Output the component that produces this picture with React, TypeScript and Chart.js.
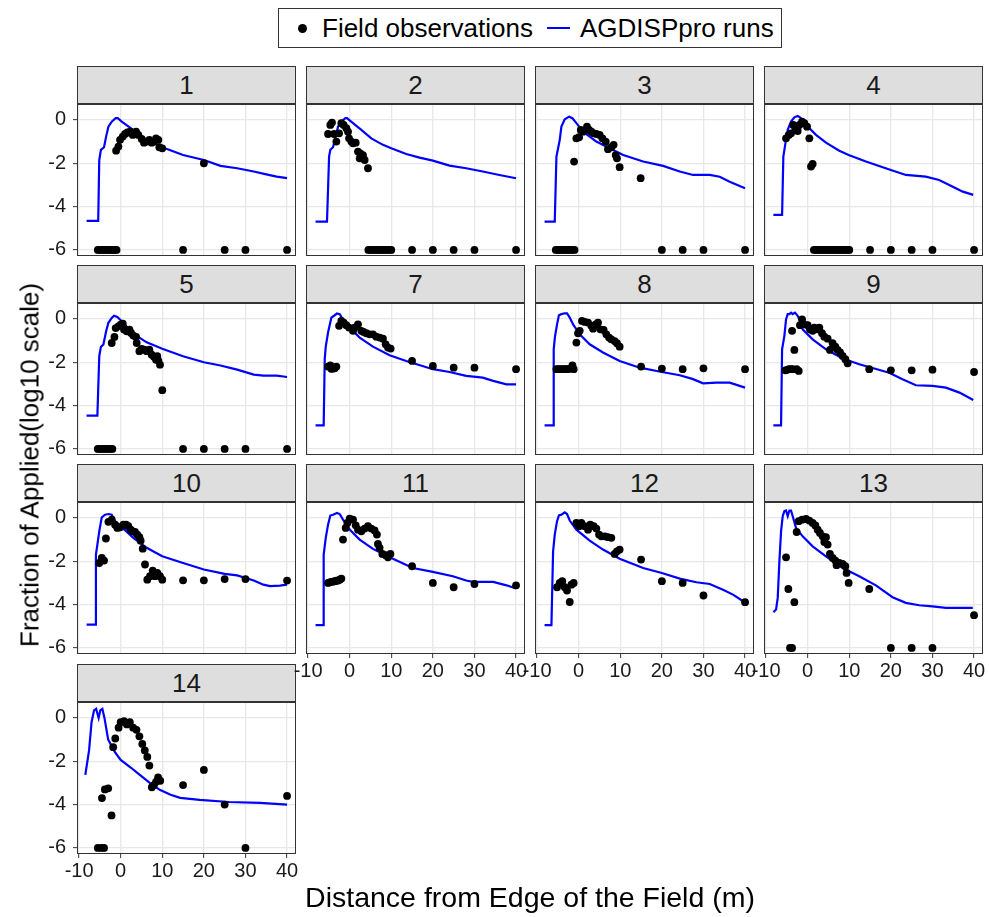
import React, { useEffect, useRef } from "react";
import { Chart, registerables } from "chart.js";
Chart.register(...registerables);

const FONT = "'Liberation Sans', Arial, Helvetica, sans-serif";

const xTicks = [-10, 0, 10, 20, 30, 40];
const yTicks = [-6, -4, -2, 0];
const xMin = -10.5;
const xMax = 42.15;
const yMin = -6.28;
const yMax = 0.735;

const panelLabels = ["1", "2", "3", "4", "5", "7", "8", "9", "10", "11", "12", "13", "14"];

// ---- AGDISPpro model runs (x = distance m, y = log10 fraction) ----
const model1 = [[-8.2,-4.66],[-5.4,-4.66],[-5.15,-1.85],[-4.75,-1.38],[-4.0,-1.26],[-3.5,-0.77],[-2.95,-0.31],[-2.15,-0.08],[-1.2,0.08],[-0.7,0.08],[0.25,-0.08],[3.0,-0.46],[6.25,-0.92],[10,-1.26],[15,-1.62],[20,-1.85],[24,-2.12],[28,-2.23],[32,-2.38],[35,-2.51],[37.5,-2.62],[40,-2.69]];
const model2 = [[-8.2,-4.69],[-5.45,-4.69],[-4.95,-1.69],[-4.65,-1.38],[-4.0,-1.26],[-3.35,-0.77],[-2.8,-0.31],[-2.0,-0.08],[-1.05,0.08],[-0.65,0.08],[0.8,-0.15],[2.8,-0.46],[5.2,-0.85],[8,-1.15],[10,-1.31],[13.6,-1.57],[16.8,-1.74],[20,-1.88],[24,-2.11],[28,-2.23],[32,-2.38],[36,-2.54],[40,-2.69]];
const model3 = [[-8.2,-4.69],[-5.75,-4.69],[-5.35,-1.69],[-4.95,-1.31],[-4.55,-0.92],[-4.15,-0.31],[-3.35,0.03],[-2.3,0.15],[-1.5,0.08],[-0.55,-0.15],[1.05,-0.54],[4.25,-1.0],[7.45,-1.31],[10.7,-1.62],[15.5,-1.92],[20.3,-2.12],[24.3,-2.38],[27.5,-2.54],[31.5,-2.54],[33.9,-2.62],[36.3,-2.85],[40,-3.15]];
const model4 = [[-8.25,-4.38],[-6.15,-4.38],[-5.85,-1.69],[-5.35,-1.08],[-4.8,-0.46],[-4.0,-0.08],[-3.2,0.12],[-2.4,0.18],[-1.85,0.12],[-1.2,0.0],[0,-0.31],[2.0,-0.69],[4.4,-1.05],[7.6,-1.42],[9.85,-1.62],[14,-1.92],[20,-2.31],[23.6,-2.54],[28.4,-2.62],[31.6,-2.77],[34.9,-3.08],[37.3,-3.31],[39.8,-3.46]];
const model5 = [[-8.2,-4.46],[-5.6,-4.46],[-5.15,-1.72],[-4.75,-1.29],[-4.15,-1.18],[-3.5,-0.57],[-2.95,-0.18],[-2.15,0.05],[-1.6,0.15],[-0.8,0.09],[0,-0.06],[3.05,-0.68],[6.25,-1.08],[10,-1.38],[15,-1.72],[20,-2.0],[24,-2.15],[28,-2.34],[32,-2.57],[34.3,-2.62],[37.5,-2.62],[40,-2.68]];
const model7 = [[-8.2,-4.91],[-6.25,-4.91],[-6.0,-1.86],[-5.75,-1.28],[-5.2,-0.63],[-4.4,0.06],[-3.6,0.17],[-3.05,0.25],[-2.4,0.22],[-1.75,0.02],[0,-0.4],[2.4,-0.86],[5.6,-1.28],[9.6,-1.68],[13.6,-1.94],[20,-2.32],[24,-2.45],[28,-2.63],[32,-2.71],[34.5,-2.86],[37.7,-3.02],[40,-3.02]];
const model8 = [[-8.2,-4.91],[-6.15,-4.91],[-6.0,-1.4],[-5.7,-0.82],[-5.2,-0.25],[-4.75,0.17],[-4.15,0.22],[-3.35,0.26],[-2.8,0.26],[-2.15,0.06],[-1.35,-0.25],[0.25,-0.71],[2.65,-1.17],[5.85,-1.55],[9.85,-1.94],[14.7,-2.25],[20,-2.45],[24.3,-2.6],[27.5,-2.78],[29.9,-2.97],[33.1,-2.94],[36.3,-2.94],[40,-3.17]];
const model9 = [[-8.25,-4.91],[-6.4,-4.91],[-6.15,-1.4],[-5.6,-0.78],[-5.2,-0.02],[-4.8,0.22],[-4.4,0.22],[-4.0,0.29],[-3.6,0.22],[-3.05,0.29],[-2.4,0.14],[-1.85,-0.09],[-1.2,-0.48],[1.2,-0.94],[4.4,-1.4],[8.4,-1.83],[12.4,-2.09],[19.6,-2.48],[22.8,-2.78],[26,-3.06],[30,-3.09],[33.25,-3.17],[36.5,-3.4],[39.8,-3.74]];
const model10 = [[-8.2,-4.92],[-6.15,-4.92],[-5.95,-1.69],[-5.6,-1.23],[-5.15,-0.62],[-4.55,0.03],[-3.75,0.15],[-2.95,0.18],[-2.15,0.15],[-1.35,-0.15],[0,-0.38],[3.05,-0.92],[6.25,-1.38],[10,-1.77],[15,-2.08],[20,-2.38],[25,-2.58],[28,-2.65],[32,-2.89],[34.3,-3.08],[35.9,-3.15],[38.3,-3.12],[40,-3.08]];
const model11 = [[-8.2,-4.95],[-6.4,-4.95],[-6.25,-1.69],[-5.75,-0.92],[-5.2,-0.31],[-4.65,0.11],[-4.0,0.15],[-3.05,0.23],[-2.4,0.18],[-1.75,-0.03],[0,-0.54],[2.4,-1.0],[5.6,-1.43],[9.6,-1.82],[15.2,-2.31],[20,-2.49],[24.8,-2.69],[28,-2.89],[29.6,-2.95],[34.5,-2.95],[37.7,-3.11],[40,-3.26]];
const model12 = [[-8.2,-4.95],[-6.55,-4.95],[-6.15,-1.54],[-5.75,-0.77],[-5.2,-0.15],[-4.75,0.12],[-4.15,0.15],[-3.35,0.26],[-2.8,0.18],[-2.15,-0.12],[-0.55,-0.54],[2.65,-1.05],[5.85,-1.46],[9.85,-1.88],[15.5,-2.31],[20,-2.54],[24.3,-2.8],[28.3,-2.97],[31.5,-3.05],[34.7,-3.31],[37.1,-3.54],[39.9,-3.89]];
const model13 = [[-8.25,-4.35],[-7.6,-4.23],[-7.2,-3.69],[-6.8,-2.0],[-6.4,-0.62],[-6.0,0.08],[-5.6,0.31],[-5.2,0.34],[-4.8,0.08],[-4.4,0.34],[-4.0,0.34],[-3.6,0.08],[-2.8,-0.46],[-1.2,-0.85],[1.2,-1.31],[4.4,-1.77],[8.4,-2.31],[12.4,-2.69],[16.4,-3.11],[20.4,-3.66],[23.6,-3.92],[26.8,-4.03],[30,-4.08],[33.25,-4.15],[36.5,-4.15],[39.7,-4.15]];
const model14 = [[-8.5,-2.63],[-7.6,-1.5],[-7.0,-0.2],[-6.4,0.35],[-5.9,0.42],[-5.3,0.0],[-4.9,0.35],[-4.4,0.42],[-3.9,0.0],[-3.0,-1.0],[-1.5,-1.55],[0,-1.94],[2.5,-2.3],[4.6,-2.63],[7,-3.0],[9.4,-3.32],[12,-3.55],[14.3,-3.69],[19,-3.78],[26,-3.88],[33.5,-3.92],[40,-4.0]];

// ---- Field observations ----
const field1 = [[-5.5,-6],[-5,-6],[-4.5,-6],[-4,-6],[-3.5,-6],[-3,-6],[-2.5,-6],[-2,-6],[-1.5,-6],[-1,-6],[15,-6],[25,-6],[30,-6],[40,-6],[20,-2.0],[-1.1,-1.42],[-0.55,-1.23],[-0.15,-0.92],[0.5,-0.77],[1.05,-0.65],[1.6,-0.58],[2.25,-0.54],[2.9,-0.69],[3.7,-0.54],[4.25,-0.69],[5.05,-0.88],[5.6,-1.05],[6.25,-1.0],[6.9,-0.92],[7.45,-1.05],[8.0,-1.0],[8.5,-0.85],[9.05,-0.92],[9.3,-1.26],[10.0,-1.31]];
const field2 = [[-4.25,-0.12],[-4.65,-0.23],[-5.2,-0.65],[-3.75,-0.65],[-2.55,-0.62],[-3.2,-1.0],[-2.0,-0.15],[-1.45,-0.23],[-0.8,-0.38],[-0.4,-0.54],[-0.15,-0.85],[0.4,-1.0],[0.8,-1.08],[1.45,-1.05],[2.0,-1.46],[2.55,-1.54],[3.2,-1.62],[2.4,-1.77],[3.6,-1.85],[4.4,-2.23],[4.5,-6],[5,-6],[5.5,-6],[6,-6],[6.5,-6],[7,-6],[7.5,-6],[8,-6],[8.5,-6],[9,-6],[9.5,-6],[10,-6],[15,-6],[20,-6],[25,-6],[30,-6],[40,-6]];
const field3 = [[-1.1,-1.92],[-0.55,-0.85],[0.1,-0.8],[0.5,-0.46],[1.05,-0.54],[2.0,-0.31],[2.5,-0.46],[3.05,-0.54],[3.6,-0.62],[4.25,-0.65],[5.05,-0.69],[5.7,-0.85],[6.5,-1.0],[7.05,-1.35],[7.85,-1.26],[8.4,-1.15],[8.9,-1.62],[9.2,-1.77],[9.85,-2.18],[14.9,-2.69],[-5.5,-6],[-5,-6],[-4.5,-6],[-4,-6],[-3.5,-6],[-3,-6],[-2.5,-6],[-2,-6],[-1.5,-6],[-1,-6],[20,-6],[25,-6],[30,-6],[40,-6]];
const field4 = [[-5.2,-0.85],[-4.55,-0.69],[-4.0,-0.62],[-3.45,-0.23],[-2.95,-0.46],[-2.4,-0.51],[-2.0,-0.23],[-1.35,-0.08],[-0.8,-0.15],[-0.15,-0.31],[0.4,-0.85],[0.8,-2.15],[1.2,-2.03],[1.5,-6],[2,-6],[2.5,-6],[3,-6],[3.5,-6],[4,-6],[4.5,-6],[5,-6],[5.5,-6],[6,-6],[6.5,-6],[7,-6],[7.5,-6],[8,-6],[8.5,-6],[9,-6],[9.5,-6],[10,-6],[15,-6],[20,-6],[25,-6],[30,-6],[40,-6]];
const field5 = [[-2.15,-1.11],[-1.5,-0.83],[-1.2,-0.42],[-0.55,-0.34],[0,-0.26],[0.5,-0.22],[0.8,-0.49],[1.45,-0.57],[2.1,-0.49],[2.5,-0.65],[3.05,-0.77],[3.7,-0.83],[3.85,-1.11],[4.5,-1.49],[5.05,-1.38],[5.7,-1.42],[6.25,-1.49],[6.9,-1.42],[7.45,-1.65],[8.0,-1.75],[8.5,-1.88],[8.8,-1.72],[9.05,-1.92],[9.45,-2.11],[10,-3.29],[-5.5,-6],[-5,-6],[-4.5,-6],[-4,-6],[-3.5,-6],[-3,-6],[-2.5,-6],[-2,-6],[15,-6],[20,-6],[25,-6],[30,-6],[40,-6]];
const field7 = [[-5.2,-2.2],[-4.65,-2.14],[-4.4,-2.3],[-4.0,-2.29],[-3.6,-2.28],[-3.2,-2.2],[-2.55,-0.32],[-2.0,-0.09],[-1.45,-0.17],[-0.8,-0.29],[-0.15,-0.4],[0.8,-0.55],[1.2,-0.4],[2.0,-0.25],[2.8,-0.55],[3.35,-0.6],[4.0,-0.66],[4.8,-0.71],[5.6,-0.71],[6.4,-0.82],[7.2,-0.86],[8.0,-0.91],[8.65,-1.17],[9.2,-1.32],[9.85,-1.37],[15,-1.94],[20,-2.17],[25,-2.25],[30,-2.25],[40,-2.32]];
const field8 = [[-5.35,-2.32],[-4.95,-2.32],[-4.55,-2.32],[-4.15,-2.32],[-3.75,-2.32],[-3.35,-2.32],[-2.95,-2.32],[-2.55,-2.32],[-2.15,-2.29],[-1.5,-2.14],[-1.2,-2.32],[-0.55,-1.09],[-0.15,-0.66],[0.25,-0.55],[0.8,-0.09],[1.45,-0.14],[2.25,-0.17],[3.05,-0.32],[3.45,-0.45],[4.1,-0.25],[4.65,-0.17],[5.2,-0.48],[6.0,-0.51],[6.65,-0.71],[7.3,-0.86],[7.85,-0.94],[8.65,-1.02],[9.2,-1.12],[9.85,-1.28],[15,-2.2],[20,-2.29],[25,-2.32],[30,-2.28],[40,-2.32]];
const field9 = [[-5.35,-2.37],[-4.95,-2.35],[-4.55,-2.32],[-4.0,-2.32],[-3.6,-2.32],[-2.65,-2.32],[-2.15,-2.4],[-3.75,-0.55],[-3.2,-1.43],[-1.85,-0.29],[-1.35,-0.02],[-0.8,-0.25],[0,-0.29],[0.55,-0.48],[1.2,-0.55],[1.6,-0.4],[2.4,-0.48],[2.8,-0.4],[3.45,-0.66],[4.0,-0.82],[4.8,-0.91],[5.35,-1.43],[6.0,-1.12],[6.65,-1.28],[7.2,-1.43],[7.8,-1.55],[8.4,-1.71],[9.05,-1.86],[9.6,-2.05],[14.8,-2.32],[20,-2.37],[25,-2.37],[30,-2.34],[40,-2.45]];
const field10 = [[-5.15,-2.08],[-4.55,-1.85],[-4.0,-1.97],[-3.55,-0.95],[-2.95,-0.18],[-2.15,-0.08],[-1.35,-0.31],[-0.8,-0.46],[-0.15,-0.43],[0.65,-0.31],[1.3,-0.31],[1.85,-0.38],[2.4,-0.54],[2.9,-0.62],[3.45,-0.65],[4.0,-0.77],[4.5,-0.89],[4.8,-1.05],[5.3,-1.42],[5.85,-2.15],[6.4,-2.85],[7.05,-2.69],[7.7,-2.43],[8.25,-2.69],[8.8,-2.54],[9.45,-2.69],[10,-2.85],[15,-2.88],[20,-2.88],[25,-2.82],[30,-2.82],[40,-2.89]];
const field11 = [[-5.2,-3.0],[-4.8,-2.97],[-4.4,-2.95],[-4.0,-2.94],[-3.6,-2.92],[-3.2,-2.9],[-2.8,-2.89],[-2.4,-2.85],[-2.0,-2.8],[-1.6,-1.0],[-0.95,-0.46],[-0.55,-0.23],[0,-0.03],[0.8,-0.08],[1.45,-0.34],[2.0,-0.54],[2.8,-0.62],[3.6,-0.49],[4.4,-0.38],[5.2,-0.49],[6.0,-0.58],[6.55,-0.77],[6.8,-1.2],[7.2,-1.38],[7.85,-1.66],[8.65,-1.72],[9.2,-1.82],[9.8,-1.66],[15,-2.23],[20,-3.0],[25,-3.2],[30,-3.05],[40,-3.11]];
const field12 = [[-5.2,-3.2],[-4.55,-3.0],[-3.95,-2.92],[-3.35,-3.2],[-2.8,-3.35],[-2.15,-3.88],[-1.75,-3.08],[-1.2,-3.0],[-0.55,-0.23],[0.1,-0.38],[0.65,-0.23],[1.45,-0.38],[2.25,-0.54],[2.8,-0.31],[3.6,-0.38],[4.25,-0.49],[4.9,-0.77],[5.45,-0.85],[6.25,-0.85],[7.05,-0.89],[7.85,-0.92],[8.65,-1.66],[9.2,-1.54],[9.85,-1.46],[15,-1.92],[20,-2.92],[25,-3.0],[30,-3.58],[40,-3.89]];
const field13 = [[-5.2,-1.82],[-4.65,-3.28],[-3.2,-3.89],[-2.65,-0.65],[-2.15,-0.15],[-1.35,-0.08],[-0.4,-0.05],[0.4,-0.12],[1.2,-0.23],[1.85,-0.35],[2.4,-0.54],[2.95,-0.69],[3.6,-0.85],[4.0,-1.11],[4.4,-0.89],[4.8,-1.23],[5.35,-1.66],[6.0,-1.85],[6.65,-1.97],[6.95,-2.18],[7.6,-2.08],[8.4,-2.12],[9.05,-2.23],[9.35,-2.54],[9.85,-3.0],[14.8,-3.28],[40,-4.49],[-4.25,-6],[-3.75,-6],[20,-6],[25,-6],[30,-6]];
const field14 = [[-5.5,-6],[-4.7,-6],[-4.0,-6],[-4.5,-3.7],[-3.8,-3.3],[-3.0,-3.25],[-2.2,-4.5],[-1.8,-1.35],[-1.3,-0.95],[-0.5,-0.45],[0.0,-0.2],[0.8,-0.15],[1.5,-0.3],[2.2,-0.2],[3.0,-0.45],[3.8,-0.55],[4.5,-0.85],[5.2,-1.2],[5.8,-1.5],[6.4,-1.8],[6.9,-2.2],[7.5,-3.2],[8.0,-3.1],[8.5,-2.95],[9.0,-2.75],[9.5,-2.9],[15,-3.1],[20,-2.4],[25,-4.0],[30,-6],[40,-3.6]];

const models = [model1, model2, model3, model4, model5, model7, model8, model9, model10, model11, model12, model13, model14];
const fields = [field1, field2, field3, field4, field5, field7, field8, field9, field10, field11, field12, field13, field14];

// layout
const colLefts = [77, 306, 535, 764];
const rowTops = [104, 303, 502, 702];
const PW = 219;
const PH = 152;
const STRIP = 38;
const ML = 50, MR = 16, MT = 22, MB = 32;

const borderPlugin = {
  id: "panelBorder",
  afterDraw(chart: any) {
    const { ctx, chartArea } = chart;
    const { left, top, right, bottom } = chartArea;
    ctx.save();
    ctx.strokeStyle = "#333333";
    ctx.lineWidth = 1;
    ctx.strokeRect(left + 0.5, top + 0.5, right - left - 1, bottom - top - 1);
    ctx.restore();
  },
};

function Panel(props: { idx: number; showX: boolean; showY: boolean }) {
  const ref = useRef<HTMLCanvasElement | null>(null);
  const { idx, showX, showY } = props;
  useEffect(() => {
    if (!ref.current) return;
    const toXY = (arr: number[][]) => arr.map((p) => ({ x: p[0], y: p[1] }));
    const chart = new Chart(ref.current, {
      type: "scatter",
      data: {
        datasets: [
          {
            label: "Field observations",
            data: toXY(fields[idx]),
            backgroundColor: "#000000",
            borderWidth: 0,
            pointRadius: 3.9,
            order: 0,
          } as any,
          {
            label: "AGDISPpro runs",
            type: "line",
            data: toXY(models[idx]),
            borderColor: "#0000FF",
            borderWidth: 2.2,
            pointRadius: 0,
            showLine: true,
            tension: 0,
            fill: false,
            order: 1,
          } as any,
        ],
      },
      options: {
        responsive: false,
        animation: false,
        events: [],
        layout: { padding: { left: 0, top: MT, right: MR, bottom: 0 } },
        plugins: { legend: { display: false }, tooltip: { enabled: false }, title: { display: false } },
        scales: {
          x: {
            type: "linear",
            min: xMin,
            max: xMax,
            afterBuildTicks: (s: any) => {
              s.ticks = xTicks.map((v) => ({ value: v }));
            },
            afterFit: (s: any) => {
              s.height = MB;
            },
            border: { display: false },
            grid: { color: "#E8E8E8", lineWidth: 1.3, drawTicks: showX, tickLength: 4, tickColor: "#333333", tickWidth: 1 },
            ticks: { display: showX, autoSkip: false, maxRotation: 0, minRotation: 0, padding: 1, color: "#1A1A1A", font: { family: FONT, size: 20 } },
          },
          y: {
            type: "linear",
            min: yMin,
            max: yMax,
            afterBuildTicks: (s: any) => {
              s.ticks = yTicks.map((v) => ({ value: v }));
            },
            afterFit: (s: any) => {
              s.width = ML;
            },
            border: { display: false },
            grid: { color: "#E8E8E8", lineWidth: 1.3, drawTicks: showY, tickLength: 4, tickColor: "#333333", tickWidth: 1 },
            ticks: { display: showY, autoSkip: false, padding: 7, color: "#1A1A1A", font: { family: FONT, size: 20 } },
          },
        },
      },
      plugins: [borderPlugin],
    } as any);
    return () => chart.destroy();
  }, [idx, showX, showY]);
  const col = idx % 4;
  const row = Math.floor(idx / 4);
  return (
    <canvas
      ref={ref}
      width={ML + PW + MR}
      height={MT + PH + MB}
      style={{ position: "absolute", left: colLefts[col] - ML, top: rowTops[row] - MT, width: ML + PW + MR, height: MT + PH + MB }}
    />
  );
}

export default function App() {
  return (
    <div style={{ position: "absolute", left: 0, top: 0, width: 989, height: 917, background: "#ffffff", fontFamily: FONT, overflow: "hidden" }}>
      {/* legend */}
      <div style={{ position: "absolute", left: 278, top: 8, width: 504, height: 40, boxSizing: "border-box", border: "1px solid #333333" }} />
      <div style={{ position: "absolute", left: 298, top: 24, width: 9, height: 9, borderRadius: "50%", background: "#000" }} />
      <div style={{ position: "absolute", left: 322, top: 28, transform: "translateY(-50%)", fontSize: 26, color: "#000", whiteSpace: "nowrap", lineHeight: "30px" }}>Field observations</div>
      <div style={{ position: "absolute", left: 547, top: 27, width: 23, height: 2, background: "#0000FF" }} />
      <div style={{ position: "absolute", left: 580, top: 28, transform: "translateY(-50%)", fontSize: 26, color: "#000", whiteSpace: "nowrap", lineHeight: "30px" }}>AGDISPpro runs</div>

      {/* strips */}
      {panelLabels.map((lab, i) => {
        const col = i % 4;
        const row = Math.floor(i / 4);
        return (
          <div
            key={"s" + lab}
            style={{
              position: "absolute",
              left: colLefts[col],
              top: rowTops[row] - STRIP,
              width: PW,
              height: STRIP,
              boxSizing: "border-box",
              border: "1px solid #333333",
              background: "#DEDEDE",
              display: "flex",
              alignItems: "center",
              justifyContent: "center",
              fontSize: 26,
              color: "#1A1A1A",
            }}
          >
            {lab}
          </div>
        );
      })}

      {/* panels */}
      {panelLabels.map((lab, i) => {
        const col = i % 4;
        const showY = col === 0;
        const showX = i >= 9;
        return <Panel key={"p" + lab} idx={i} showX={showX} showY={showY} />;
      })}

      {/* axis titles */}
      <div style={{ position: "absolute", left: 30, top: 465, transform: "translate(-50%, -50%) rotate(-90deg)", fontSize: 26, color: "#000", whiteSpace: "nowrap" }}>
        Fraction of Applied(log10 scale)
      </div>
      <div style={{ position: "absolute", left: 530, top: 897, transform: "translate(-50%, -50%)", fontSize: 28.5, color: "#000", whiteSpace: "nowrap" }}>
        Distance from Edge of the Field (m)
      </div>
    </div>
  );
}
